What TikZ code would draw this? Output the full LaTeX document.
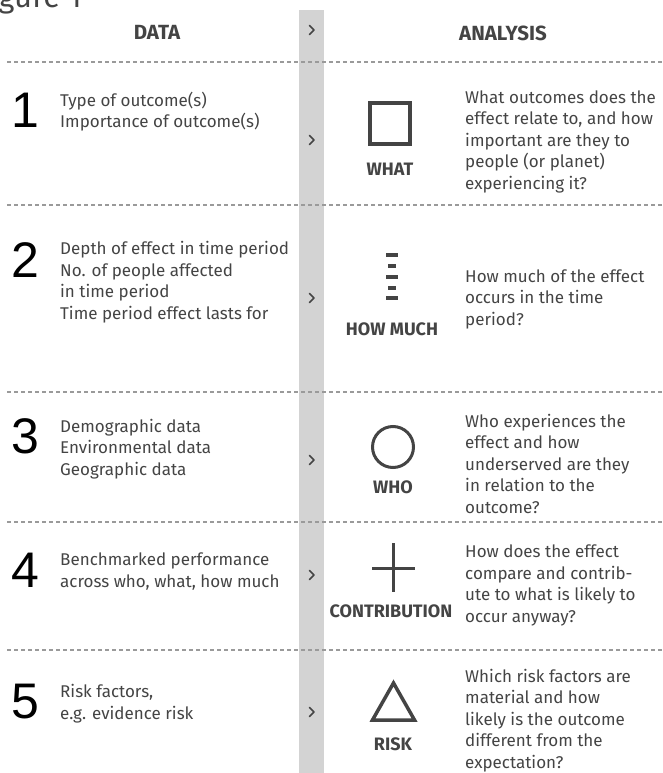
\documentclass[tikz,border=0pt]{standalone}
\usepackage{fontspec}
\setmainfont{Fira Sans}
\newfontfamily\numfont{Liberation Sans}
\definecolor{ink}{HTML}{444444}
\definecolor{column}{HTML}{D3D3D3}
\definecolor{rule}{HTML}{9A9A9A}
\tikzset{
  % multi-line nodes sit on the baseline of their last line
  body/.style={anchor=base west, align=left, inner sep=0pt, text=ink,
    font=\fontsize{17}{21.5}\selectfont},
  head/.style={anchor=base, inner sep=0pt, text=ink,
    font=\fontsize{20.5}{22}\selectfont\bfseries},
  label/.style={anchor=base, inner sep=0pt, text=ink,
    font=\fontsize{18}{20}\selectfont\bfseries},
  num/.style={anchor=base, inner sep=0pt, font=\fontsize{50}{50}\selectfont\numfont},
  icon/.style={draw=ink, line width=3.5pt},
  sep/.style={draw=rule, line width=1.2pt, dash pattern=on 4pt off 3pt},
  chev/.style={draw=ink, line width=1.6pt, line cap=round, line join=round}
}
\begin{document}
\begin{tikzpicture}[x=1pt, y=-1pt]
  \useasboundingbox (0,0) rectangle (662,773);

  % title, cut by the page
  \node[anchor=base east, inner sep=0pt, text=ink, font=\fontsize{31}{31}\selectfont]
    (title) at (82,8) {Figure 1};

  % grey column
  \fill[column] (299,10) rectangle (324,773);

  % headers
  \node[head] (hdata) at (157,40) {DATA};
  \node[head] (hanalysis) at (503,41) {ANALYSIS};

  % separators
  \foreach \y in {62,205,392,522,650}
    \draw[sep] (7,\y) -- (662,\y);

  % chevrons
  \foreach \y in {30,140,298,460,575,712}
    \draw[chev] (309.5,\y-4.5) -- (314,\y) -- (309.5,\y+4.5);

  % row 1
  \node[num] (n1) at (25,128) {1};
  \node[body] (d1) at (60,128) {Type of outcome(s)\\Importance of outcome(s)};
  \draw[icon] (370,103) rectangle (410,144);
  \node[label] (l1) at (390,175) {WHAT};
  \node[body] (q1) at (465,189) {What outcomes does the\\effect relate to, and how\\important are they to\\people (or planet)\\experiencing it?};

  % row 2
  \node[num] (n2) at (25,277) {2};
  \node[body] (d2) at (60,319) {Depth of effect in time period\\No. of people affected\\in time period\\Time period effect lasts for};
  \draw[icon] (386,255) -- (398,255);
  \draw[icon] (388,266) -- (396,266);
  \draw[icon] (386,277) -- (398,277);
  \draw[icon] (388,288) -- (396,288);
  \draw[icon] (386,298) -- (398,298);
  \node[label] (l2) at (392,335) {HOW MUCH};
  \node[body] (q2) at (465,325) {How much of the effect\\occurs in the time\\period?};

  % row 3
  \node[num] (n3) at (25,453) {3};
  \node[body] (d3) at (60,475) {Demographic data\\Environmental data\\Geographic data};
  \draw[icon, line width=3pt] (393,447) circle (20.5);
  \node[label] (l3) at (393,493) {WHO};
  \node[body] (q3) at (465,513) {Who experiences the\\effect and how\\underserved are they\\in relation to the\\outcome?};

  % row 4
  \node[num] (n4) at (25,587) {4};
  \node[body] (d4) at (60,587) {Benchmarked performance\\across who, what, how much};
  \draw[icon, line width=3pt] (393,543) -- (393,592);
  \draw[icon, line width=3pt] (372,568) -- (415,568);
  \node[label] (l4) at (391,617) {CONTRIBUTION};
  \node[body] (q4) at (465,622) {How does the effect\\compare and contrib-\\ute to what is likely to\\occur anyway?};

  % row 5
  \node[num] (n5) at (25,718) {5};
  \node[body] (d5) at (60,719) {Risk factors,\\e.g. evidence risk};
  \draw[icon, line join=miter] (372.5,720) -- (393.5,683) -- (414.5,720) -- cycle;
  \node[label] (l5) at (393,750) {RISK};
  \node[body] (q5) at (465,768) {Which risk factors are\\material and how\\likely is the outcome\\different from the\\expectation?};
\end{tikzpicture}
\end{document}
